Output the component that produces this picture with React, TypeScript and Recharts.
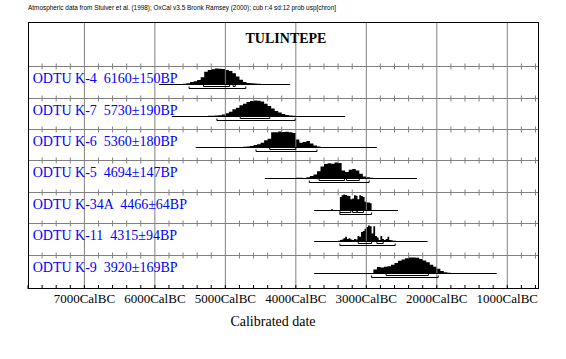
import React from 'react';
import { ComposedChart, Area, Line, Scatter, XAxis, YAxis, ReferenceLine } from 'recharts';

// sample labels as printed by OxCal
const sampleLabels = [
  'ODTU K-4  6160±150BP',
  'ODTU K-7  5730±190BP',
  'ODTU K-6  5360±180BP',
  'ODTU K-5  4694±147BP',
  'ODTU K-34A  4466±64BP',
  'ODTU K-11  4315±94BP',
  'ODTU K-9  3920±169BP',
];

// probability histograms (relative heights), first bin start year BC and bin width
const distStartBC = [5650, 5250, 4800, 4000, 3500, 3400, 2900];
const distStepYears = [50, 50, 50, 50, 25, 25, 50];

const probK4 = [0.03, 0.05, 0.08, 0.15, 0.2, 0.28, 0.45, 0.8, 0.9, 0.95, 1.0, 0.98, 0.97, 0.9, 0.85, 0.7, 0.5, 0.3, 0.15, 0.1, 0.08, 0.06, 0.04, 0.02];
const probK7 = [0.04, 0.05, 0.06, 0.08, 0.12, 0.2, 0.3, 0.45, 0.55, 0.7, 0.8, 0.9, 0.97, 1.0, 0.98, 0.93, 0.8, 0.65, 0.5, 0.35, 0.25, 0.15, 0.1, 0.06, 0.04, 0.03];
const probK6 = [0.03, 0.05, 0.07, 0.1, 0.15, 0.2, 0.3, 0.45, 0.55, 0.95, 0.95, 1.0, 0.97, 0.98, 0.95, 0.9, 0.5, 0.3, 0.35, 0.4, 0.25, 0.12, 0.06, 0.03];
const probK5 = [0.04, 0.05, 0.03, 0.08, 0.15, 0.25, 0.45, 0.75, 0.9, 0.95, 0.92, 1.0, 0.97, 0.5, 0.4, 0.55, 0.6, 0.5, 0.3, 0.12, 0.08, 0.05, 0.03];
const probK34A = [0.08, 0, 0, 0, 0, 0.85, 0.95, 1.0, 0.97, 0.92, 0.9, 0.7, 0.75, 0.95, 0.92, 0.7, 0.95, 0.9, 0.85, 0.55, 0.5, 0.5, 0.45];
const probK11 = [0.05, 0.1, 0.12, 0.2, 0.3, 0.15, 0.2, 0.12, 0.1, 0.15, 0.12, 0.35, 0.3, 0.6, 0.65, 0.8, 0.9, 1.0, 0.95, 0.5, 0.95, 0.35, 0.25, 0.1, 0.35, 0.15, 0.1, 0.15, 0.3, 0.1, 0.08, 0.05, 0.04, 0.02];
const probK9 = [0.25, 0.4, 0.38, 0.42, 0.45, 0.55, 0.65, 0.8, 0.88, 0.95, 1.0, 1.0, 0.98, 0.9, 0.82, 0.7, 0.55, 0.42, 0.3, 0.15, 0.08, 0.05, 0.02];
const distProbs = [probK4, probK7, probK6, probK5, probK34A, probK11, probK9];

// plotted span of each row (years BC)
const spanBC = [[5940, 4080], [5760, 3300], [5420, 2850], [4440, 2280], [3740, 2550], [3740, 2130], [3740, 1150]];
// 68.2% and 95.4% ranges (years BC)
const range68BC = [
  [[5310, 4940], [4890, 4860]],
  [[4790, 4370]],
  [[4370, 4000]],
  [[3670, 3310], [3280, 3100]],
  [[3375, 3220], [3195, 3135], [3125, 3040]],
  [[3115, 2925], [2850, 2760]],
  [[2720, 2120]],
];
const range95BC = [[5515, 4710], [5120, 4010], [4565, 3700], [3810, 2960], [3375, 2925], [3375, 2590], [2925, 1980]];

const majorTicksBC = [7000, 6000, 5000, 4000, 3000, 2000, 1000];

// layout
const W = 566;
const H = 359;
const M = { top: 22, right: 27, bottom: 40, left: 28 };
const PLOT_H = 267;
const X_MIN = -7800;
const X_MAX = -550;
const ROW_TOPS = [44, 76, 107, 138, 170, 201, 233];
const PEAK_H = 16;
const FONT = '"Liberation Serif", "Times New Roman", serif';

const baseOf = (i: number) => ROW_TOPS[i] + 18.5;

const xTicks: number[] = [];
for (let v = X_MIN; v <= X_MAX; v += 200) xTicks.push(v);

const histData = distProbs.map((probs, i) => {
  const base = baseOf(i);
  const pts = probs.map((p, k) => ({ x: -(distStartBC[i] - k * distStepYears[i]), y: base - p * PEAK_H }));
  pts.push({ x: -(distStartBC[i] - probs.length * distStepYears[i]), y: base });
  return pts;
});

const bracket = (r: number[], y: number) => [
  { x: -r[0], y: y - 2 },
  { x: -r[0], y },
  { x: -r[1], y },
  { x: -r[1], y: y - 2 },
  { x: -r[1], y: null },
];

const lineData = spanBC.map((s, i) => {
  const base = baseOf(i);
  let pts: { x: number; y: number | null }[] = [
    { x: -s[0], y: base },
    { x: -s[1], y: base },
    { x: -s[1], y: null },
  ];
  range68BC[i].forEach((r) => { pts = pts.concat(bracket(r, base + 2)); });
  pts = pts.concat(bracket(range95BC[i], base + 4));
  return pts;
});

const rowTickData: { x: number; y: number }[] = [];
ROW_TOPS.forEach((t) => {
  xTicks.forEach((v) => {
    if (v % 1000 !== 0) rowTickData.push({ x: v, y: t + 0.5 });
  });
});

const labelData = sampleLabels.map((name, i) => ({ x: X_MIN, y: ROW_TOPS[i] + 17.3, name }));

const XTick = (props: any) => {
  const { x, y, payload } = props;
  const v = payload.value;
  return (
    <g>
      <line x1={x} x2={x} y1={y} y2={y - 4} stroke="#000" />
      {v % 1000 === 0 && (
        <text x={x} y={y + 13.5} textAnchor="middle" fontFamily={FONT} fontSize={13} fill="#000">
          {`${-v}CalBC`}
        </text>
      )}
    </g>
  );
};

const LabelMark = (props: any) => (
  <text x={props.cx + 4.7} y={props.cy} fontFamily={FONT} fontSize={14} fill="#0000ff" style={{ whiteSpace: 'pre' }}>
    {props.payload?.name ?? props.name}
  </text>
);

const TickMark = (props: any) => (
  <line x1={props.cx} x2={props.cx} y1={props.cy - 3} y2={props.cy + 3} stroke="#808080" />
);

export default function App() {
  return (
    <div style={{ position: 'absolute', left: 0, top: 0, width: W, height: H, background: '#fff' }}>
      <ComposedChart width={W} height={H} margin={M}>
        <XAxis
          type="number"
          dataKey="x"
          domain={[X_MIN, X_MAX]}
          ticks={xTicks}
          interval={0}
          allowDataOverflow
          height={30}
          axisLine={false}
          tickLine={false}
          tickSize={0}
          tickMargin={0}
          tick={<XTick />}
        />
        <YAxis type="number" domain={[0, PLOT_H]} reversed allowDataOverflow hide />
        {majorTicksBC.map((v) => (
          <ReferenceLine key={`v${v}`} x={-v} stroke="#808080" />
        ))}
        {ROW_TOPS.map((t) => (
          <ReferenceLine key={`h${t}`} y={t + 0.5} stroke="#808080" />
        ))}
        <Scatter data={rowTickData} dataKey="y" shape={<TickMark />} isAnimationActive={false} />
        {histData.map((d, i) => (
          <Area
            key={`a${i}`}
            data={d}
            dataKey="y"
            type="stepAfter"
            baseValue={baseOf(i)}
            fill="#000"
            fillOpacity={1}
            stroke="none"
            dot={false}
            activeDot={false}
            isAnimationActive={false}
          />
        ))}
        {lineData.map((d, i) => (
          <Line
            key={`l${i}`}
            data={d}
            dataKey="y"
            type="linear"
            stroke="#000"
            strokeWidth={1}
            dot={false}
            activeDot={false}
            connectNulls={false}
            isAnimationActive={false}
          />
        ))}
        <Scatter data={labelData} dataKey="y" shape={<LabelMark />} isAnimationActive={false} />
      </ComposedChart>
      <svg width={W} height={H} style={{ position: 'absolute', left: 0, top: 0, pointerEvents: 'none' }}>
        <text x={28} y={10} fontFamily='"Liberation Sans", Arial, sans-serif' fontSize={7} textLength={308} lengthAdjust="spacingAndGlyphs" fill="#000">
          Atmospheric data from Stuiver et al. (1998); OxCal v3.5 Bronk Ramsey (2000); cub r:4 sd:12 prob usp[chron]
        </text>
        <rect x={28.5} y={22.5} width={510} height={266} fill="none" stroke="#000" />
        <text x={286} y={43} textAnchor="middle" fontFamily={FONT} fontSize={14} fontWeight="bold" fill="#000">
          TULINTEPE
        </text>
        <text x={273} y={326} textAnchor="middle" fontFamily={FONT} fontSize={14} fill="#000">
          Calibrated date
        </text>
      </svg>
    </div>
  );
}
